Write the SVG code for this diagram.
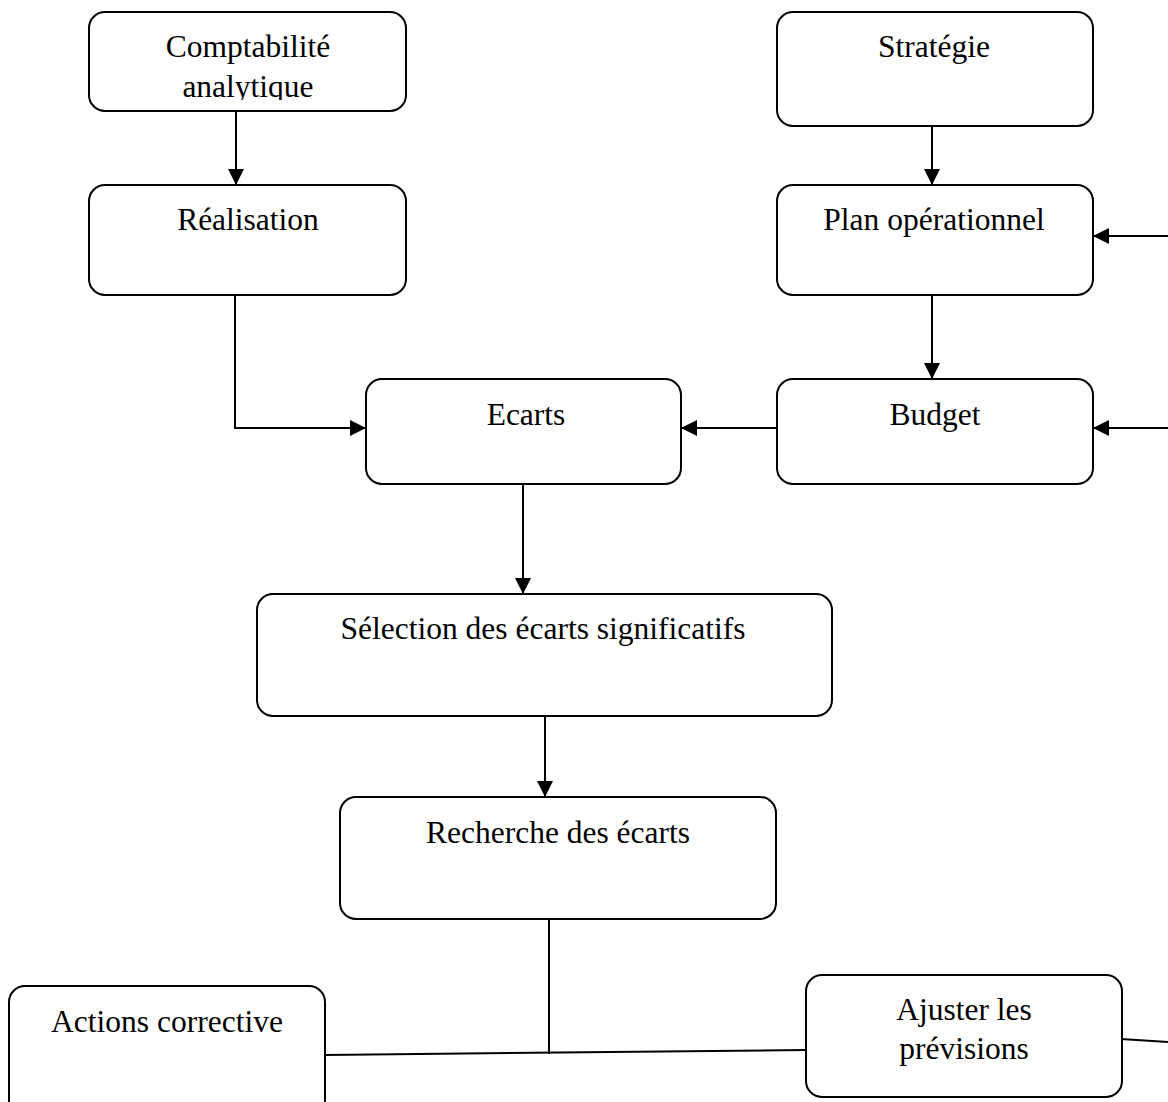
<svg xmlns="http://www.w3.org/2000/svg" width="1168" height="1102" viewBox="0 0 1168 1102">
  <style>
    .box { fill: #ffffff; stroke: #000000; stroke-width: 2; }
    .lbl { font-family: "Liberation Serif", "Times New Roman", serif; font-size: 31.5px; fill: #000000; text-anchor: middle; }
    .wire { fill: none; stroke: #000000; stroke-width: 2; }
  </style>
  <defs>
    <marker id="arrow" viewBox="0 0 16 16" refX="16" refY="8" markerWidth="16" markerHeight="16" markerUnits="userSpaceOnUse" orient="auto">
      <path d="M0,0 L16,8 L0,16 Z" fill="#000000"/>
    </marker>
    <clipPath id="clipCompta">
      <rect x="89" y="12" width="317" height="88"/>
    </clipPath>
  </defs>
  <rect width="1168" height="1102" fill="#ffffff"/>

  <g id="connectors">
    <line class="wire" x1="236" y1="111" x2="236" y2="185" marker-end="url(#arrow)"/>
    <line class="wire" x1="932" y1="126" x2="932" y2="185" marker-end="url(#arrow)"/>
    <line class="wire" x1="932" y1="295" x2="932" y2="379" marker-end="url(#arrow)"/>
    <polyline class="wire" points="235,295 235,428 366,428" marker-end="url(#arrow)"/>
    <line class="wire" x1="777" y1="428" x2="681" y2="428" marker-end="url(#arrow)"/>
    <line class="wire" x1="1168" y1="236" x2="1093" y2="236" marker-end="url(#arrow)"/>
    <line class="wire" x1="1168" y1="428" x2="1093" y2="428" marker-end="url(#arrow)"/>
    <line class="wire" x1="523" y1="484" x2="523" y2="594" marker-end="url(#arrow)"/>
    <line class="wire" x1="545" y1="716" x2="545" y2="797" marker-end="url(#arrow)"/>
    <line class="wire" x1="549" y1="919" x2="549" y2="1054"/>
    <line class="wire" x1="325" y1="1055" x2="806" y2="1050"/>
    <line class="wire" x1="1121" y1="1039" x2="1168" y2="1042"/>
  </g>

  <g id="compta">
    <rect class="box" x="89" y="12" width="317" height="99" rx="16"/>
    <g clip-path="url(#clipCompta)">
      <text class="lbl" x="248" y="57">Comptabilité</text>
      <text class="lbl" x="248" y="97">analytique</text>
    </g>
  </g>
  <g id="strategie">
    <rect class="box" x="777" y="12" width="316" height="114" rx="16"/>
    <text class="lbl" x="934" y="57">Stratégie</text>
  </g>
  <g id="realisation">
    <rect class="box" x="89" y="185" width="317" height="110" rx="16"/>
    <text class="lbl" x="248" y="230">Réalisation</text>
  </g>
  <g id="plan">
    <rect class="box" x="777" y="185" width="316" height="110" rx="16"/>
    <text class="lbl" x="934" y="230">Plan opérationnel</text>
  </g>
  <g id="ecarts">
    <rect class="box" x="366" y="379" width="315" height="105" rx="16"/>
    <text class="lbl" x="526" y="425">Ecarts</text>
  </g>
  <g id="budget">
    <rect class="box" x="777" y="379" width="316" height="105" rx="16"/>
    <text class="lbl" x="935" y="425">Budget</text>
  </g>
  <g id="selection">
    <rect class="box" x="257" y="594" width="575" height="122" rx="16"/>
    <text class="lbl" x="543" y="639">Sélection des écarts significatifs</text>
  </g>
  <g id="recherche">
    <rect class="box" x="340" y="797" width="436" height="122" rx="16"/>
    <text class="lbl" x="558" y="843">Recherche des écarts</text>
  </g>
  <g id="actions">
    <rect class="box" x="9" y="986" width="316" height="130" rx="16"/>
    <text class="lbl" x="167" y="1032">Actions corrective</text>
  </g>
  <g id="ajuster">
    <rect class="box" x="806" y="975" width="316" height="122" rx="16"/>
    <text class="lbl" x="964" y="1020">Ajuster les</text>
    <text class="lbl" x="964" y="1059">prévisions</text>
  </g>
</svg>
